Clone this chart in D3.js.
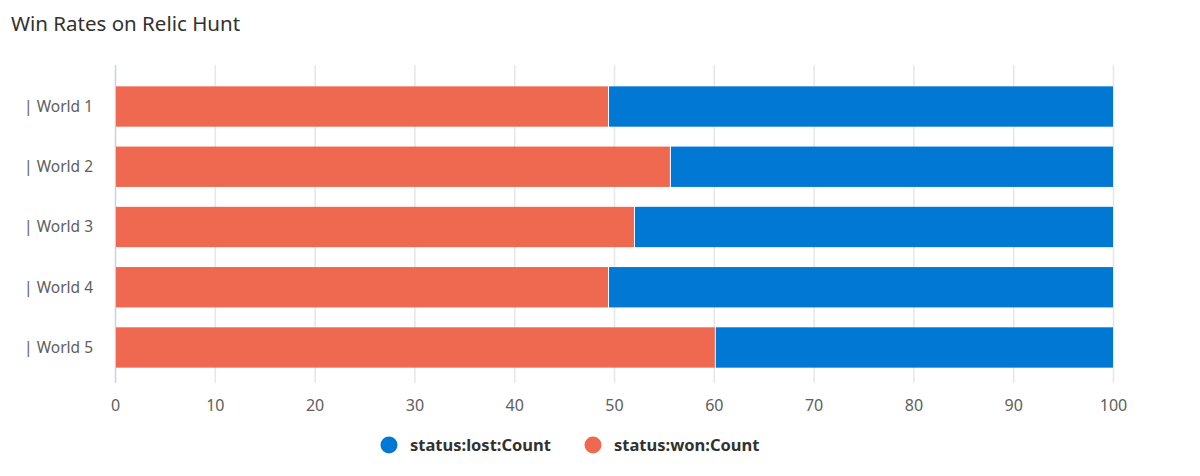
<!DOCTYPE html>
<html><head><meta charset="utf-8">
<script src="https://cdn.jsdelivr.net/npm/d3@7"></script>
<style>
body{margin:0;background:#fff;}
text{font-family:"Segoe UI","Noto Sans","Open Sans",sans-serif;-webkit-font-smoothing:antialiased;}
</style></head>
<body><svg id="c" width="1200" height="476"></svg>
<script>
const categories = ["| World 1","| World 2","| World 3","| World 4","| World 5"];
const wonValues = [49.4, 55.6, 52.0, 49.4, 60.1];
const lostValues = [50.6, 44.4, 48.0, 50.6, 39.9];
const seriesNames = ["status:lost:Count","status:won:Count"];
const xTicks = [0,10,20,30,40,50,60,70,80,90,100];
const colors = {won:"#ef6950", lost:"#0078d4"};
const FONT = '"Segoe UI","Noto Sans","Open Sans",sans-serif';

const svg = d3.select("#c");
svg.append("text").attr("x",11).attr("y",31).text("Win Rates on Relic Hunt")
  .attr("font-size",20.5).attr("fill","#323130").attr("font-weight",400);

const x = d3.scaleLinear().domain([0,100]).range([115,1113]);
const y = d3.scaleBand().domain(categories).range([76.4,377.6]).paddingInner(0.33).paddingOuter(0.165);
const gridTop = 65, gridBottom = 383;

// grid
svg.append("g").selectAll("line").data(xTicks.slice(1)).join("line")
  .attr("x1",d=>x(d)+0.5).attr("x2",d=>x(d)+0.5).attr("y1",gridTop).attr("y2",gridBottom)
  .attr("stroke","#e6e6e6").attr("stroke-width",1.5);
svg.append("line").attr("x1",x(0)+0.5).attr("x2",x(0)+0.5).attr("y1",gridTop).attr("y2",gridBottom)
  .attr("stroke","#c5d3ea").attr("stroke-width",1.5);

const rows = categories.map((c,i)=>({c, won:wonValues[i], lost:lostValues[i]}));
const g = svg.append("g");
g.selectAll("rect.won").data(rows).join("rect").attr("class","won")
  .attr("x",x(0)+1).attr("y",d=>y(d.c)).attr("height",y.bandwidth())
  .attr("width",d=>x(d.won)-x(0)-1).attr("fill",colors.won);
g.selectAll("rect.lost").data(rows).join("rect").attr("class","lost")
  .attr("x",d=>x(d.won)+1).attr("y",d=>y(d.c)).attr("height",y.bandwidth())
  .attr("width",d=>x(d.won+d.lost)-x(d.won)-1).attr("fill",colors.lost);

// y labels
svg.append("g").selectAll("text").data(categories).join("text")
  .attr("x",93).attr("y",d=>y(d)+y.bandwidth()/2).attr("dy","0.35em")
  .attr("text-anchor","end").attr("font-size",15.5).attr("fill","#605e5c").text(d=>d);

// x axis
const xa = svg.append("g").attr("transform",`translate(0,${gridBottom})`)
  .call(d3.axisBottom(x).tickValues(xTicks).tickSize(0).tickPadding(17));
xa.select(".domain").remove();
xa.selectAll("text").attr("font-size",16).attr("fill","#605e5c").attr("font-family",FONT);

// legend
const leg = [{n:seriesNames[0],c:colors.lost,cx:389},{n:seriesNames[1],c:colors.won,cx:593}];
const lg = svg.append("g");
lg.selectAll("circle").data(leg).join("circle").attr("cx",d=>d.cx).attr("cy",445).attr("r",8.5).attr("fill",d=>d.c);
lg.selectAll("text").data(leg).join("text").attr("x",d=>d.cx+21).attr("y",445).attr("dy","0.35em")
  .attr("font-size",16.5).attr("font-weight",700).attr("fill","#323130").text(d=>d.n);
</script></body></html>
